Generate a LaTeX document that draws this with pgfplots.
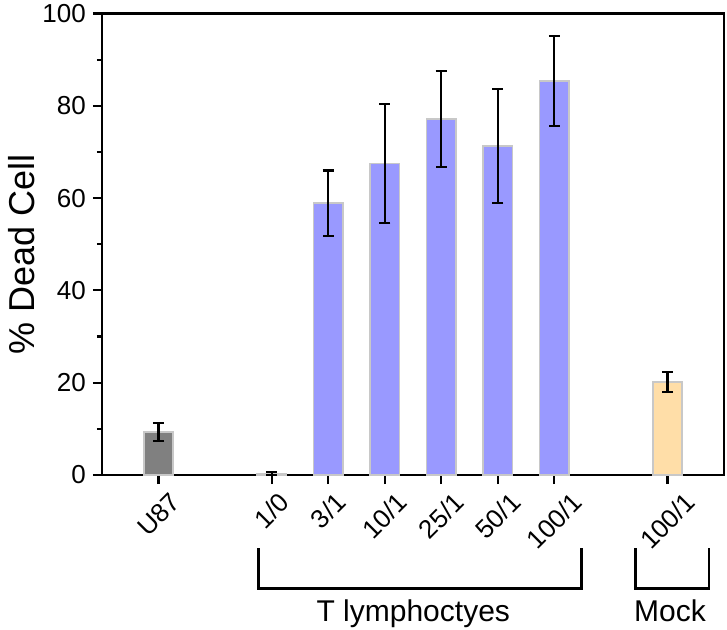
\documentclass[border=0pt]{standalone}
\usepackage{pgfplots}
\pgfplotsset{compat=1.18}
\usepackage{fontspec}
\setmainfont{Liberation Sans}
\definecolor{bargray}{RGB}{128,128,128}
\definecolor{barblue}{RGB}{153,153,255}
\definecolor{barorange}{RGB}{255,222,168}
\definecolor{baredge}{RGB}{200,200,200}
\begin{document}
\begin{tikzpicture}
\begin{axis}[
  scale only axis,
  width=311pt, height=230.75pt,
  xmin=-1, xmax=10,
  ymin=0, ymax=100,
  ytick={0,20,40,60,80,100},
  minor y tick num=1,
  xtick={0,2,3,4,5,6,7,9},
  xticklabels={\rotatebox{45}{U87},\rotatebox{45}{1/0},\rotatebox{45}{3/1},\rotatebox{45}{10/1},\rotatebox{45}{25/1},\rotatebox{45}{50/1},\rotatebox{45}{100/1},\rotatebox{45}{100/1}},
  xticklabel style={anchor=north, font=\fontsize{13}{15}\selectfont},
  yticklabel style={font=\fontsize{13}{15}\selectfont},
  /pgf/number format/assume math mode=true,
  tick pos=left,
  tick align=outside,
  major tick length=4.6pt,
  minor tick length=2.5pt,
  tick style={line width=1.1pt, black},
  axis line style={line width=1.2pt},
  ylabel={\% Dead Cell},
  ylabel style={at={(axis description cs:-0.1286,0.478)}, anchor=center, font=\fontsize{18}{21}\selectfont},
  ybar, bar width=0.52, bar shift=0pt,
  clip=false,
  error bars/error bar style={line width=1.1pt, black},
  error bars/error mark options={rotate=90, mark size=2.8pt, line width=1.1pt, black},
]
\addplot[fill=bargray, draw=baredge, line width=0.8pt,
  error bars/.cd, y dir=both, y explicit]
  coordinates {(0,9.3) +- (0,1.9)};
\addplot[fill=barblue, draw=baredge, line width=0.8pt,
  error bars/.cd, y dir=both, y explicit]
  coordinates {
    (2,0.3) +- (0,0.3)
    (3,58.9) +- (0,7.1)
    (4,67.5) +- (0,12.9)
    (5,77.1) +- (0,10.4)
    (6,71.3) +- (0,12.3)
    (7,85.4) +- (0,9.8)
  };
\addplot[fill=barorange, draw=baredge, line width=0.8pt,
  error bars/.cd, y dir=both, y explicit]
  coordinates {(9,20.1) +- (0,2.2)};
\draw[line width=1.3pt] (axis cs:1.764,-15.88) -- (axis cs:1.764,-24.55) -- (axis cs:7.483,-24.55) -- (axis cs:7.483,-15.88);
\draw[line width=1.3pt] (axis cs:8.437,-15.88) -- (axis cs:8.437,-24.55) -- (axis cs:9.734,-24.55) -- (axis cs:9.734,-15.88);
\node[anchor=base, font=\fontsize{15}{18}\selectfont, inner sep=0pt] at (axis cs:4.505,-31.8) {T lymphoctyes};
\node[anchor=base, font=\fontsize{15}{18}\selectfont, inner sep=0pt] at (axis cs:9.044,-31.8) {Mock};
\end{axis}
\pgfresetboundingbox
\useasboundingbox ([xshift=-51pt,yshift=-77.5pt]current axis.south west) rectangle ([xshift=1.5pt,yshift=6.75pt]current axis.north east);
\end{tikzpicture}
\end{document}
